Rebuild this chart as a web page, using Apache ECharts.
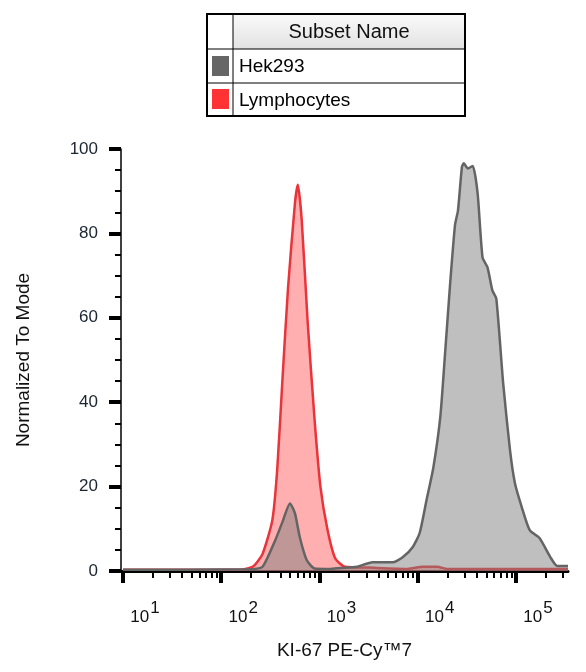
<!DOCTYPE html>
<html><head><meta charset="utf-8">
<script src="https://cdn.jsdelivr.net/npm/echarts@6/dist/echarts.min.js"></script>
<style>html,body{margin:0;padding:0;background:#fff}#c{width:586px;height:672px}</style>
</head><body><div id="c"></div>
<script>
// x values are log10 of KI-67 PE-Cy7 intensity
const hekX = [1.0,2.29,2.42,2.55,2.62,2.70,2.75,2.80,2.87,2.95,3.11,3.21,3.38,3.54,3.75,3.85,3.95,4.02,4.09,4.16,4.23,4.28,4.33,4.38,4.41,4.45,4.47,4.51,4.56,4.61,4.66,4.71,4.76,4.80,4.87,4.94,4.99,5.06,5.14,5.24,5.35,5.42,5.53];
const hekY = [0.3,0.4,1,7.3,11.4,16,13.7,8,2.6,0.6,0.5,0.7,1,2.1,2.1,3.3,5.7,9,16.8,24.6,36.5,52,68,82,85.4,95.7,96.6,95.4,96,89.5,74.3,72,66.5,64.6,44.5,28.6,20.8,15.1,9.7,7.8,3.3,1.2,1.2];
const lymX = [1.0,2.19,2.32,2.42,2.52,2.57,2.62,2.68,2.75,2.78,2.82,2.88,2.95,3.01,3.08,3.16,3.26,3.5,3.9,4.05,4.2,4.3,5.53];
const lymY = [0.3,0.3,1,4,12,24,44,67,87,91.5,83,59,36,20,10,3,1,0.8,0.5,1,1,0.5,0.5];
const majorExp = [1,2,3,4,5];
const legendNames = ['Hek293','Lymphocytes'];
const legendHeader = 'Subset Name';
const xMin = 0.98, xMax = 5.53;
const minorVals = [];
majorExp.forEach(n => { for (let k = 2; k <= 9; k++) { const v = n + Math.log10(k); if (v <= xMax) minorVals.push(v); } });

const chart = echarts.init(document.getElementById('c'));
const font = 'Liberation Sans, Arial, sans-serif';
function rowTable() {
  const L = 207, R = 465, M = 233, T = 14, H1 = 49, H2 = 83, B = 116;
  return [
    {type:'rect', shape:{x:M,y:T,width:R-M,height:H1-T}, style:{fill:{type:'linear',x:0,y:0,x2:0,y2:1,colorStops:[{offset:0,color:'#fafafa'},{offset:1,color:'#e2e2e2'}]}}},
    {type:'rect', shape:{x:L,y:T,width:R-L,height:B-T}, style:{fill:'none',stroke:'#000',lineWidth:2}},
    {type:'line', shape:{x1:M,y1:T,x2:M,y2:B}, style:{stroke:'#000',lineWidth:1}},
    {type:'line', shape:{x1:L,y1:H1,x2:R,y2:H1}, style:{stroke:'#000',lineWidth:1}},
    {type:'line', shape:{x1:L,y1:H2,x2:R,y2:H2}, style:{stroke:'#000',lineWidth:1}},
    {type:'text', x:(M+R)/2, y:(T+H1)/2+1, style:{text:legendHeader, font:'20px '+font, fill:'#111', align:'center', verticalAlign:'middle'}},
    {type:'rect', shape:{x:212,y:56,width:17,height:20}, style:{fill:'#666666'}},
    {type:'rect', shape:{x:212,y:89,width:17,height:20}, style:{fill:'#ff3333'}},
    {type:'text', x:239, y:(H1+H2)/2+1, style:{text:legendNames[0], font:'19px '+font, fill:'#000', verticalAlign:'middle'}},
    {type:'text', x:239, y:(H2+B)/2+1, style:{text:legendNames[1], font:'19px '+font, fill:'#000', verticalAlign:'middle'}}
  ];
}
chart.setOption({
  animation:false,
  grid:{left:121, right:18, top:149, bottom:101},
  xAxis:[{
    type:'value', min:xMin, max:xMax,
    name:'KI-67 PE-Cy\u21227', nameLocation:'middle', nameGap:70,
    nameTextStyle:{fontFamily:font, fontSize:19, color:'#111'},
    axisLine:{lineStyle:{color:'#000', width:3}},
    splitLine:{show:false},
    axisTick:{customValues:majorExp, length:12, lineStyle:{color:'#000', width:4}},
    axisLabel:{customValues:majorExp, margin:20, formatter:v => '{b|10}{s|' + v + '}',
      rich:{b:{fontFamily:font,fontSize:17,color:'#111',padding:[18,0,0,44]}, s:{fontFamily:font,fontSize:17,color:'#111',padding:[0,0,0,1]}}}
  },{
    type:'value', min:xMin, max:xMax, position:'bottom',
    axisLine:{show:false}, splitLine:{show:false}, axisLabel:{show:false},
    axisTick:{customValues:minorVals, length:7, lineStyle:{color:'#000', width:2}}
  }],
  yAxis:{
    type:'value', min:0, max:100, interval:20,
    name:'Normalized To Mode', nameLocation:'middle', nameGap:88,
    nameTextStyle:{fontFamily:font, fontSize:19, color:'#111'},
    axisLine:{show:true, lineStyle:{color:'#000', width:1.5}},
    splitLine:{show:false},
    axisTick:{length:12, lineStyle:{color:'#000', width:4}},
    minorTick:{show:true, splitNumber:4, length:6, lineStyle:{color:'#000', width:2}},
    axisLabel:{margin:23, fontFamily:font, fontSize:17, color:'#1a2530'}
  },
  series:[
    {type:'line', name:legendNames[1], data:lymX.map((x,i)=>[x,lymY[i]]), showSymbol:false, smooth:0.2,
     lineStyle:{color:'#e8343a', width:2.5}, areaStyle:{color:'#ff6060', opacity:0.5}, z:2},
    {type:'line', name:legendNames[0], data:hekX.map((x,i)=>[x,hekY[i]]), showSymbol:false, smooth:0.2,
     lineStyle:{color:'#646464', width:2.5}, areaStyle:{color:'#808080', opacity:0.5}, z:3}
  ],
  graphic: rowTable()
});
</script></body></html>
